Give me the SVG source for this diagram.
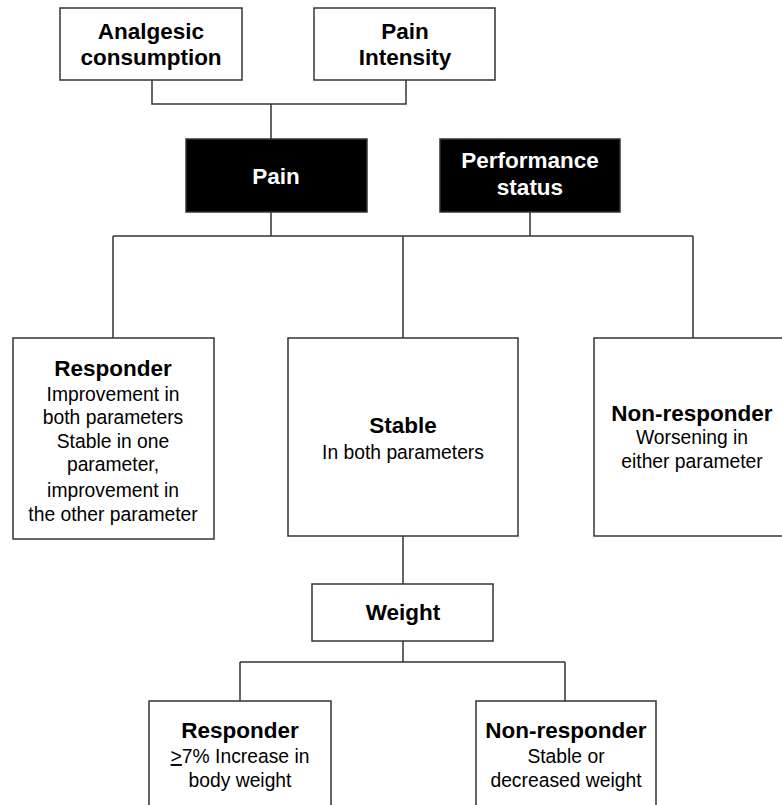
<svg xmlns="http://www.w3.org/2000/svg" width="782" height="805" viewBox="0 0 782 805">
<style>
.box{fill:#fff;stroke:#333;stroke-width:1.5}
.dark{fill:#000;stroke:#333;stroke-width:1.5}
.ln{fill:none;stroke:#333;stroke-width:1.5}
text{font-family:"Liberation Sans",Arial,sans-serif;text-anchor:middle;fill:#000}
.b{font-weight:bold;font-size:22.5px}
.r{font-size:19.3px}
.w{fill:#fff}
</style>
<rect width="782" height="805" fill="#fff"/>
<g id="connectors">
<path class="ln" d="M152 80V104H406V80M271 104V139"/>
<path class="ln" d="M271 212V236M530 212V236M113 236H693M113 236V338M403 236V338M693 236V338"/>
<path class="ln" d="M403 536V584M403 641V662M240 662H565M240 662V701M565 662V701"/>
</g>
<g id="analgesic">
<rect class="box" x="60" y="8" width="182" height="72"/>
<text class="b" x="151" y="39">Analgesic</text>
<text class="b" x="151" y="65">consumption</text>
</g>
<g id="painintensity">
<rect class="box" x="314" y="8" width="181" height="72"/>
<text class="b" x="405" y="39">Pain</text>
<text class="b" x="405" y="65">Intensity</text>
</g>
<g id="pain">
<rect class="dark" x="186" y="139" width="181" height="73"/>
<text class="b w" x="276" y="184">Pain</text>
</g>
<g id="performance">
<rect class="dark" x="440" y="139" width="180" height="73"/>
<text class="b w" x="530" y="168">Performance</text>
<text class="b w" x="530" y="195">status</text>
</g>
<g id="responder">
<rect class="box" x="13" y="338" width="201" height="201"/>
<text class="b" x="113" y="376">Responder</text>
<text class="r" x="113" y="401">Improvement in</text>
<text class="r" x="113" y="424">both parameters</text>
<text class="r" x="113" y="448">Stable in one</text>
<text class="r" x="113" y="471">parameter,</text>
<text class="r" x="113" y="497">improvement in</text>
<text class="r" x="113" y="521">the other parameter</text>
</g>
<g id="stable">
<rect class="box" x="288" y="338" width="230" height="198"/>
<text class="b" x="403" y="433">Stable</text>
<text class="r" x="403" y="459">In both parameters</text>
</g>
<g id="nonresponder">
<rect class="box" x="594" y="338" width="200" height="198"/>
<text class="b" x="692" y="421">Non-responder</text>
<text class="r" x="692" y="444">Worsening in</text>
<text class="r" x="692" y="468">either parameter</text>
</g>
<g id="weight">
<rect class="box" x="312" y="584" width="181" height="57"/>
<text class="b" x="403" y="620">Weight</text>
</g>
<g id="weightresponder">
<rect class="box" x="149" y="701" width="182" height="120"/>
<text class="b" x="240" y="738">Responder</text>
<text class="r" x="240" y="763"><tspan text-decoration="underline">&gt;</tspan>7% Increase in</text>
<text class="r" x="240" y="787">body weight</text>
</g>
<g id="weightnonresponder">
<rect class="box" x="476" y="701" width="180" height="120"/>
<text class="b" x="566" y="738">Non-responder</text>
<text class="r" x="566" y="763">Stable or</text>
<text class="r" x="566" y="787">decreased weight</text>
</g>
</svg>
